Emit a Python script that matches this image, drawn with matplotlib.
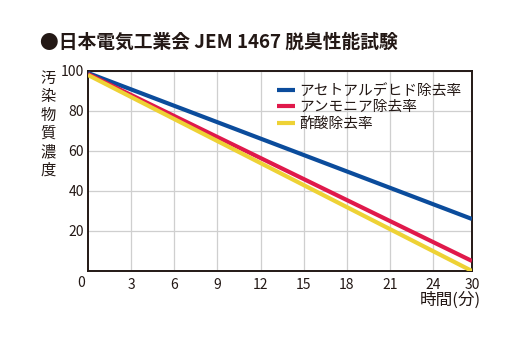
import numpy as np
import matplotlib.pyplot as plt
import matplotlib as mpl
from matplotlib.transforms import offset_copy

mpl.rcParams["font.family"] = ["Noto Sans CJK JP", "DejaVu Sans"]
mpl.rcParams["axes.unicode_minus"] = False

# ======================
# データ
# ======================
time = [0, 30]
acetaldehyde = [99, 26]
ammonia = [98.5, 5]
acetic_acid = [98, 0]

series_names = ["アセトアルデヒド除去率", "アンモニア除去率", "酢酸除去率"]
series_colors = ["#0b4c9c", "#e0194b", "#eed235"]

x_ticks = [3, 6, 9, 12, 15, 18, 21, 24, 30]
y_ticks = [20, 40, 60, 80, 100]

# 24分以降は横軸が詰められている
squeeze = 6.5 / 14.375


def fwd(x):
    x = np.asarray(x, dtype=float)
    return np.where(x <= 24, x, 24 + (x - 24) * squeeze)


def inv(x):
    x = np.asarray(x, dtype=float)
    return np.where(x <= 24, x, 24 + (x - 24) / squeeze)


# ======================
# 建図
# ======================
fig = plt.figure(figsize=(5.2, 3.38), dpi=100)
ax = fig.add_axes([88 / 520, 67 / 338, 384 / 520, 200 / 338])
ax.set_xscale("function", functions=(fwd, inv))

for vals, name, c in zip([acetaldehyde, ammonia, acetic_acid], series_names, series_colors):
    ax.plot(time, vals, color=c, lw=3.0, label=name, solid_capstyle="butt", zorder=3)

ax.set_xlim(0, 30)
ax.set_ylim(0, 100)
ax.set_xticks(x_ticks)
ax.set_xticklabels([str(t) for t in x_ticks])
ax.set_yticks(y_ticks)
ax.set_yticklabels([str(t) for t in y_ticks])
ax.tick_params(axis="both", length=0, labelsize=10, colors="#231815")
ax.tick_params(axis="x", pad=5)
ax.tick_params(axis="y", pad=3)
ax.grid(color="#cfcfcf", lw=0.9, zorder=0)
for sp in ax.spines.values():
    sp.set_color("#231815")
    sp.set_linewidth(1.4)

# 原点の 0
ax.text(0, 0, "0", fontsize=10, color="#231815", ha="center", va="top",
        transform=offset_copy(ax.transData, fig=fig, x=-7, y=-5, units="dots"))

# ======================
# 文字
# ======================
fig.text(40 / 520, 1 - 42 / 338, "●日本電気工業会 JEM 1467 脱臭性能試験",
         fontsize=13.5, fontweight="bold", color="#231815", ha="left", va="center")

fig.text(48 / 520, 1 - 70 / 338, "\n".join("汚染物質濃度"), fontsize=11,
         color="#231815", ha="center", va="top", linespacing=1.1)

fig.text(481 / 520, 1 - 300 / 338, "時間(分)", fontsize=12,
         color="#231815", ha="right", va="center")

ax.legend(loc="upper left", bbox_to_anchor=(0.477, 0.965), frameon=False,
          fontsize=10.6, handlelength=1.22, handletextpad=0.27, labelspacing=0.17,
          borderaxespad=0, labelcolor="#231815")

plt.savefig("out.png", dpi=100)
